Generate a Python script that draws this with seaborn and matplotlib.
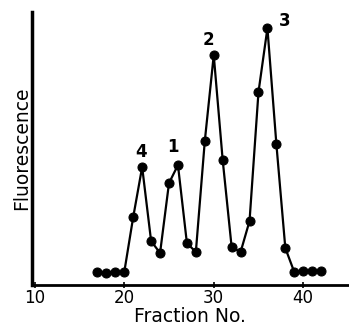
import matplotlib
matplotlib.use("Agg")
import matplotlib.pyplot as plt
import seaborn as sns
import pandas as pd

fractions = [17, 18, 19, 20, 21, 22, 23, 24, 25, 26, 27, 28, 29, 30,
             31, 32, 33, 34, 35, 36, 37, 38, 39, 40, 41, 42]
fluorescence = [13, 12, 13, 13, 68, 118, 44, 32, 102, 120, 42, 33, 144, 230,
                125, 38, 33, 64, 193, 257, 141, 37, 13, 14, 14, 14]
peak_labels = ["4", "1", "2", "3"]
peak_x = [21.9, 25.4, 29.4, 37.9]
peak_y = [133, 138, 245, 264]
xticks = [10, 20, 30, 40]

sns.set_theme(style="white")
plt.rcParams['font.family'] = ['DejaVu Sans']

df = pd.DataFrame({"Fraction No.": fractions, "Fluorescence": fluorescence})

fig = plt.figure(figsize=(3.49, 3.28), dpi=100)
ax = fig.add_axes([0.092, 0.131, 0.905, 0.832])
sns.lineplot(data=df, x="Fraction No.", y="Fluorescence", ax=ax, color="black",
             linewidth=1.6, marker="o", markersize=6.5, markeredgecolor="black",
             markerfacecolor="black")

for t, x, y in zip(peak_labels, peak_x, peak_y):
    ax.text(x, y, t, ha="center", va="center", fontsize=12, fontweight="bold", color="black")

ax.set_xlim(9.7, 45)
ax.set_ylim(0, 273)
ax.set_xticks(xticks)
ax.set_xticklabels([str(v) for v in xticks])
ax.set_yticks([])
for s in ["top", "right"]:
    ax.spines[s].set_visible(False)
ax.spines["left"].set_linewidth(2.5)
ax.spines["bottom"].set_linewidth(2.0)
ax.spines["left"].set_color("black")
ax.spines["bottom"].set_color("black")
ax.tick_params(axis="x", direction="inout", length=4, width=1.2, colors="black",
               labelsize=12, pad=1, bottom=True)
ax.set_xlabel("Fraction No.", fontsize=13.5, color="black", labelpad=0)
ax.set_ylabel("Fluorescence", fontsize=13.5, color="black", labelpad=1)

fig.savefig("out.png", dpi=100)
